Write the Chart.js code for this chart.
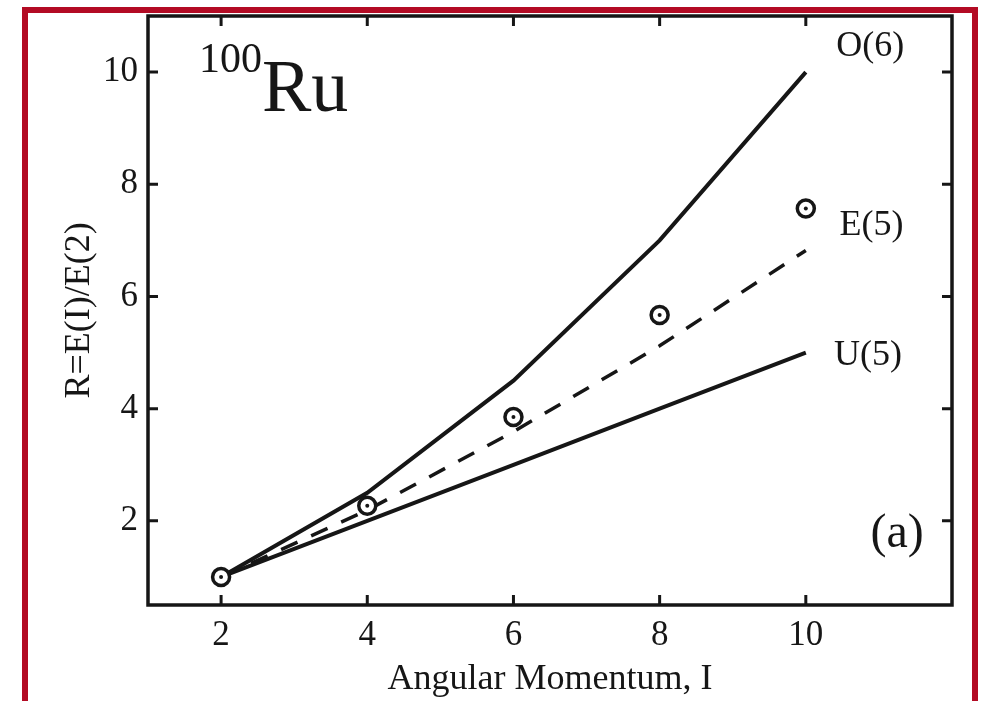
<!DOCTYPE html>
<html>
<head>
<meta charset="utf-8">
<title>100Ru R ratios</title>
<script src="https://cdn.jsdelivr.net/npm/chart.js@4.4.1/dist/chart.umd.min.js"></script>
<style>
  html, body { margin: 0; padding: 0; background: #fff; }
  #wrap { width: 982px; height: 701px; }
</style>
</head>
<body>
<div id="wrap"><canvas id="ratioChart" width="982" height="701"></canvas></div>
<script>
// angular momentum values
const spins = [2, 4, 6, 8, 10];
// limits: O(6), U(5) and E(5) predictions
const o6 = [1, 2.5, 4.5, 7, 10];
const u5 = [1, 2, 3, 4, 5];
const e5 = [1, 2.19, 3.59, 5.12, 6.82];
// measured 100Ru ratios
const ru100 = [1, 2.27, 3.85, 5.67, 7.57];

const xTicks = [2, 4, 6, 8, 10];
const yTicks = [2, 4, 6, 8, 10];

// curve labels, placed in data coordinates
const curveLabels = [
    { text: 'O(6)', x: 10.88, y: 10.45 },
    { text: 'E(5)', x: 10.9, y: 7.26 },
    { text: 'U(5)', x: 10.85, y: 4.94 }
];

const ink = '#161616';
const serif = '"Liberation Serif", "Times New Roman", serif';

function pts(ys) {
    return spins.map((s, i) => ({ x: s, y: ys[i] }));
}

// frame, inward ticks, labels and the red outline
const framePlugin = {
    id: 'framePlugin',
    beforeDraw(chart) {
        const c = chart.ctx;
        c.save();
        c.fillStyle = '#ffffff';
        c.fillRect(0, 0, chart.width, chart.height);
        c.fillStyle = '#b30b24';
        c.fillRect(22, 7, 6, chart.height - 7);
        c.fillRect(22, 7, 956, 6);
        c.fillRect(972, 7, 6, chart.height - 7);
        c.restore();
    },
    afterDraw(chart) {
        const c = chart.ctx;
        const a = chart.chartArea;
        const xs = chart.scales.x, ys = chart.scales.y;
        c.save();
        c.strokeStyle = ink;
        c.lineWidth = 3.5;
        c.strokeRect(a.left, a.top, a.right - a.left, a.bottom - a.top);
        c.lineWidth = 3;
        c.beginPath();
        xTicks.forEach(v => {
            const px = xs.getPixelForValue(v);
            c.moveTo(px, a.bottom); c.lineTo(px, a.bottom - 10);
            c.moveTo(px, a.top); c.lineTo(px, a.top + 10);
        });
        yTicks.forEach(v => {
            const py = ys.getPixelForValue(v);
            c.moveTo(a.left, py); c.lineTo(a.left + 10, py);
            c.moveTo(a.right, py); c.lineTo(a.right - 10, py);
        });
        c.stroke();

        c.fillStyle = ink;
        c.textAlign = 'center';
        c.textBaseline = 'middle';
        c.font = '36px ' + serif;
        curveLabels.forEach(l => {
            c.fillText(l.text, xs.getPixelForValue(l.x), ys.getPixelForValue(l.y));
        });
        c.font = '48px ' + serif;
        c.fillText('(a)', xs.getPixelForValue(11.25), ys.getPixelForValue(1.75));

        // nucleus label with mass number as a superscript
        c.textAlign = 'left';
        c.textBaseline = 'alphabetic';
        c.font = '42px ' + serif;
        c.fillText('100', a.left + 51, a.top + 56);
        c.font = '74px ' + serif;
        c.fillText('Ru', a.left + 114, a.top + 95);
        c.restore();
    }
};

new Chart(document.getElementById('ratioChart'), {
    type: 'line',
    data: {
        datasets: [
            {
                label: '100Ru centre',
                data: pts(ru100),
                showLine: false,
                pointRadius: 2,
                pointBackgroundColor: ink,
                pointBorderWidth: 0,
                order: 0
            },
            {
                label: '100Ru',
                data: pts(ru100),
                showLine: false,
                pointRadius: 8.5,
                pointBackgroundColor: '#ffffff',
                pointBorderColor: ink,
                pointBorderWidth: 3.5,
                order: 1
            },
            {
                label: 'O(6)',
                data: pts(o6),
                borderColor: ink,
                borderWidth: 4,
                pointRadius: 0,
                order: 2
            },
            {
                label: 'E(5)',
                data: pts(e5),
                borderColor: ink,
                borderWidth: 3.5,
                borderDash: [18, 15],
                pointRadius: 0,
                order: 3
            },
            {
                label: 'U(5)',
                data: pts(u5),
                borderColor: ink,
                borderWidth: 4,
                pointRadius: 0,
                order: 4
            }
        ]
    },
    options: {
        responsive: false,
        animation: false,
        devicePixelRatio: 1,
        layout: { padding: { left: 0, top: 16, right: 30, bottom: 0 } },
        plugins: {
            legend: { display: false },
            tooltip: { enabled: false }
        },
        scales: {
            x: {
                type: 'linear',
                min: 1,
                max: 12,
                grid: { display: false, drawTicks: false },
                border: { display: false },
                afterBuildTicks: s => { s.ticks = xTicks.map(v => ({ value: v })); },
                afterFit: s => { s.height = 96; s.paddingLeft = 0; s.paddingRight = 0; },
                ticks: {
                    color: ink,
                    padding: 10,
                    font: { family: serif, size: 35 },
                    maxRotation: 0
                },
                title: {
                    display: true,
                    text: 'Angular Momentum, I',
                    color: ink,
                    padding: { top: 2, bottom: 0 },
                    font: { family: serif, size: 36 }
                }
            },
            y: {
                min: 0.5,
                max: 11,
                grid: { display: false, drawTicks: false },
                border: { display: false },
                afterBuildTicks: s => { s.ticks = yTicks.map(v => ({ value: v })); },
                afterFit: s => { s.width = 148; s.paddingTop = 0; s.paddingBottom = 0; },
                ticks: {
                    color: ink,
                    padding: 10,
                    font: { family: serif, size: 35 }
                },
                title: {
                    display: true,
                    text: 'R=E(I)/E(2)',
                    color: ink,
                    padding: { top: 58, bottom: 0 },
                    font: { family: serif, size: 36 }
                }
            }
        }
    },
    plugins: [framePlugin]
});
</script>
</body>
</html>
